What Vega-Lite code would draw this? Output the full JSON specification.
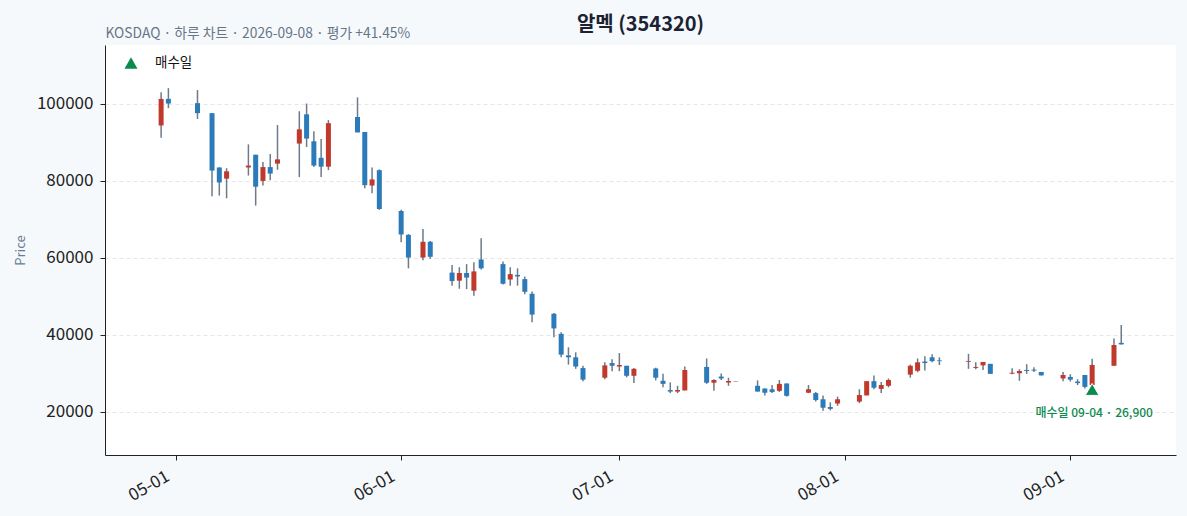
{
  "$schema": "https://vega.github.io/schema/vega-lite/v6.json",
  "width": 1071,
  "height": 410,
  "autosize": "none",
  "padding": {"left": 105, "top": 45, "right": 11, "bottom": 61},
  "background": "#f5f9fc",
  "config": {
    "view": {"stroke": null, "fill": "white"},
    "font": "Noto Sans CJK KR"
  },
  "title": {
    "text": "알멕 (354320)",
    "fontSize": 20,
    "fontWeight": "bold",
    "color": "#1b2333",
    "anchor": "middle",
    "offset": -9
  },
  "datasets": {
    "candles": [
      {"date": "2026-04-29T00:00:00", "open": 94400, "high": 103000, "low": 91200, "close": 101300},
      {"date": "2026-04-30T00:00:00", "open": 101300, "high": 104100, "low": 98900, "close": 100100},
      {"date": "2026-05-04T00:00:00", "open": 100200, "high": 103600, "low": 96100, "close": 97600},
      {"date": "2026-05-06T00:00:00", "open": 97600, "high": 97600, "low": 76000, "close": 82700},
      {"date": "2026-05-07T00:00:00", "open": 83500, "high": 83500, "low": 76200, "close": 79600},
      {"date": "2026-05-08T00:00:00", "open": 80600, "high": 83300, "low": 75500, "close": 82500},
      {"date": "2026-05-11T00:00:00", "open": 83500, "high": 89500, "low": 81400, "close": 84000},
      {"date": "2026-05-12T00:00:00", "open": 86800, "high": 86800, "low": 73600, "close": 78500},
      {"date": "2026-05-13T00:00:00", "open": 80000, "high": 84900, "low": 78800, "close": 83600},
      {"date": "2026-05-14T00:00:00", "open": 83600, "high": 87000, "low": 80200, "close": 81900},
      {"date": "2026-05-15T00:00:00", "open": 84500, "high": 94500, "low": 82900, "close": 85600},
      {"date": "2026-05-18T00:00:00", "open": 89700, "high": 98100, "low": 81000, "close": 93400},
      {"date": "2026-05-19T00:00:00", "open": 97300, "high": 100100, "low": 88800, "close": 91000},
      {"date": "2026-05-20T00:00:00", "open": 90300, "high": 92900, "low": 83600, "close": 84000},
      {"date": "2026-05-21T00:00:00", "open": 86000, "high": 90900, "low": 81000, "close": 83700},
      {"date": "2026-05-22T00:00:00", "open": 83700, "high": 95800, "low": 82800, "close": 95000},
      {"date": "2026-05-26T00:00:00", "open": 96600, "high": 101700, "low": 92600, "close": 92600},
      {"date": "2026-05-27T00:00:00", "open": 92700, "high": 92700, "low": 78100, "close": 78900},
      {"date": "2026-05-28T00:00:00", "open": 78800, "high": 83500, "low": 76800, "close": 80400},
      {"date": "2026-05-29T00:00:00", "open": 82800, "high": 83000, "low": 72500, "close": 72700},
      {"date": "2026-06-01T00:00:00", "open": 72200, "high": 72500, "low": 64100, "close": 66100},
      {"date": "2026-06-02T00:00:00", "open": 66000, "high": 66200, "low": 57300, "close": 60100},
      {"date": "2026-06-04T00:00:00", "open": 60100, "high": 67500, "low": 59400, "close": 64200},
      {"date": "2026-06-05T00:00:00", "open": 64200, "high": 64400, "low": 59800, "close": 60300},
      {"date": "2026-06-08T00:00:00", "open": 56200, "high": 58200, "low": 52800, "close": 54000},
      {"date": "2026-06-09T00:00:00", "open": 54100, "high": 57600, "low": 52000, "close": 56100},
      {"date": "2026-06-10T00:00:00", "open": 56100, "high": 58400, "low": 51900, "close": 54900},
      {"date": "2026-06-11T00:00:00", "open": 51500, "high": 58900, "low": 50200, "close": 56500},
      {"date": "2026-06-12T00:00:00", "open": 59600, "high": 65100, "low": 57000, "close": 57300},
      {"date": "2026-06-15T00:00:00", "open": 58400, "high": 59100, "low": 53100, "close": 53300},
      {"date": "2026-06-16T00:00:00", "open": 54400, "high": 57600, "low": 52800, "close": 55800},
      {"date": "2026-06-17T00:00:00", "open": 55600, "high": 57300, "low": 52800, "close": 55200},
      {"date": "2026-06-18T00:00:00", "open": 54500, "high": 55200, "low": 50600, "close": 51200},
      {"date": "2026-06-19T00:00:00", "open": 50700, "high": 51300, "low": 43300, "close": 45300},
      {"date": "2026-06-22T00:00:00", "open": 45500, "high": 45700, "low": 39400, "close": 41700},
      {"date": "2026-06-23T00:00:00", "open": 40300, "high": 40700, "low": 34200, "close": 34900},
      {"date": "2026-06-24T00:00:00", "open": 34700, "high": 36800, "low": 32300, "close": 34200},
      {"date": "2026-06-25T00:00:00", "open": 34200, "high": 35500, "low": 31200, "close": 31800},
      {"date": "2026-06-26T00:00:00", "open": 31400, "high": 32000, "low": 28000, "close": 28400},
      {"date": "2026-06-29T00:00:00", "open": 28900, "high": 32900, "low": 28500, "close": 32100},
      {"date": "2026-06-30T00:00:00", "open": 32700, "high": 33700, "low": 30600, "close": 32000},
      {"date": "2026-07-01T00:00:00", "open": 31800, "high": 35300, "low": 30600, "close": 32200},
      {"date": "2026-07-02T00:00:00", "open": 32000, "high": 32000, "low": 29000, "close": 29400},
      {"date": "2026-07-03T00:00:00", "open": 29400, "high": 31400, "low": 27500, "close": 31200},
      {"date": "2026-07-06T00:00:00", "open": 31300, "high": 31500, "low": 28200, "close": 28900},
      {"date": "2026-07-07T00:00:00", "open": 28100, "high": 29900, "low": 26400, "close": 27300},
      {"date": "2026-07-08T00:00:00", "open": 25700, "high": 27700, "low": 24900, "close": 25300},
      {"date": "2026-07-09T00:00:00", "open": 25300, "high": 26800, "low": 24900, "close": 25700},
      {"date": "2026-07-10T00:00:00", "open": 25600, "high": 31800, "low": 25600, "close": 30900},
      {"date": "2026-07-13T00:00:00", "open": 31700, "high": 33900, "low": 27300, "close": 27600},
      {"date": "2026-07-14T00:00:00", "open": 27600, "high": 28500, "low": 25500, "close": 28300},
      {"date": "2026-07-15T00:00:00", "open": 29200, "high": 30000, "low": 28300, "close": 28700},
      {"date": "2026-07-16T00:00:00", "open": 27650, "high": 28900, "low": 26800, "close": 28050},
      {"date": "2026-07-17T00:00:00", "open": 27950, "high": 28050, "low": 27950, "close": 28050},
      {"date": "2026-07-20T00:00:00", "open": 26800, "high": 28200, "low": 25300, "close": 25300},
      {"date": "2026-07-21T00:00:00", "open": 26100, "high": 26100, "low": 24300, "close": 25000},
      {"date": "2026-07-22T00:00:00", "open": 25900, "high": 27000, "low": 24900, "close": 25200},
      {"date": "2026-07-23T00:00:00", "open": 25500, "high": 28300, "low": 25200, "close": 27300},
      {"date": "2026-07-24T00:00:00", "open": 27400, "high": 27400, "low": 24000, "close": 24200},
      {"date": "2026-07-27T00:00:00", "open": 25000, "high": 27000, "low": 24900, "close": 25900},
      {"date": "2026-07-28T00:00:00", "open": 24900, "high": 25200, "low": 22700, "close": 23100},
      {"date": "2026-07-29T00:00:00", "open": 23300, "high": 24300, "low": 20300, "close": 21100},
      {"date": "2026-07-30T00:00:00", "open": 21300, "high": 22500, "low": 20400, "close": 20800},
      {"date": "2026-07-31T00:00:00", "open": 22200, "high": 24000, "low": 21600, "close": 23300},
      {"date": "2026-08-03T00:00:00", "open": 22700, "high": 25900, "low": 22300, "close": 24400},
      {"date": "2026-08-04T00:00:00", "open": 24300, "high": 28000, "low": 24300, "close": 28000},
      {"date": "2026-08-05T00:00:00", "open": 28000, "high": 29500, "low": 25900, "close": 26300},
      {"date": "2026-08-06T00:00:00", "open": 26000, "high": 27800, "low": 24900, "close": 27000},
      {"date": "2026-08-07T00:00:00", "open": 26800, "high": 28700, "low": 26400, "close": 28300},
      {"date": "2026-08-10T00:00:00", "open": 29700, "high": 32300, "low": 28900, "close": 32000},
      {"date": "2026-08-11T00:00:00", "open": 30700, "high": 33900, "low": 30300, "close": 32900},
      {"date": "2026-08-12T00:00:00", "open": 33100, "high": 34500, "low": 30800, "close": 32700},
      {"date": "2026-08-13T00:00:00", "open": 34200, "high": 35000, "low": 32900, "close": 33200},
      {"date": "2026-08-14T00:00:00", "open": 33400, "high": 34200, "low": 32200, "close": 33200},
      {"date": "2026-08-18T00:00:00", "open": 33050, "high": 35100, "low": 31200, "close": 33250},
      {"date": "2026-08-19T00:00:00", "open": 31450, "high": 32900, "low": 31100, "close": 31700},
      {"date": "2026-08-20T00:00:00", "open": 32100, "high": 33000, "low": 30900, "close": 33000},
      {"date": "2026-08-21T00:00:00", "open": 32500, "high": 32500, "low": 29900, "close": 29900},
      {"date": "2026-08-24T00:00:00", "open": 29950, "high": 31350, "low": 29800, "close": 30200},
      {"date": "2026-08-25T00:00:00", "open": 30050, "high": 31100, "low": 28100, "close": 30650},
      {"date": "2026-08-26T00:00:00", "open": 30900, "high": 32400, "low": 29900, "close": 30650},
      {"date": "2026-08-27T00:00:00", "open": 31000, "high": 31600, "low": 30400, "close": 30750},
      {"date": "2026-08-28T00:00:00", "open": 30400, "high": 30400, "low": 29500, "close": 29500},
      {"date": "2026-08-31T00:00:00", "open": 28700, "high": 30400, "low": 28000, "close": 29600},
      {"date": "2026-09-01T00:00:00", "open": 29100, "high": 29800, "low": 27900, "close": 28400},
      {"date": "2026-09-02T00:00:00", "open": 27900, "high": 28500, "low": 27000, "close": 27500},
      {"date": "2026-09-03T00:00:00", "open": 29600, "high": 29600, "low": 26100, "close": 26500},
      {"date": "2026-09-04T00:00:00", "open": 27000, "high": 33800, "low": 26900, "close": 32200},
      {"date": "2026-09-07T00:00:00", "open": 32000, "high": 39100, "low": 32000, "close": 37400},
      {"date": "2026-09-08T00:00:00", "open": 37950, "high": 42600, "low": 37550, "close": 37550}
    ],
    "buys": [
      {"date": "2026-09-04T00:00:00", "price": 26900, "kind": "매수일", "label": "매수일 09-04 · 26,900"}
    ]
  },
  "layer": [
    {
      "data": {"name": "candles"},
      "mark": {"type": "rule", "color": "#6c7a89", "strokeWidth": 1.5},
      "encoding": {
        "x": {
          "field": "date",
          "type": "temporal",
          "scale": {
            "domain": [
              {"year": 2026, "month": 4, "date": 21, "hours": 23, "minutes": 20},
              {"year": 2026, "month": 9, "date": 14, "hours": 20, "minutes": 10}
            ]
          },
          "axis": {
            "orient": "bottom",
            "title": null,
            "format": "%m-%d",
            "tickCount": {"interval": "month", "step": 1},
            "labelAngle": -30,
            "labelAlign": "right",
            "labelBaseline": "top",
            "labelFontSize": 17,
            "labelColor": "#222222",
            "labelPadding": 8,
            "labelOffset": -12,
            "tickColor": "#222222",
            "tickSize": 5,
            "domainColor": "#222222",
            "grid": false
          }
        },
        "y": {
          "field": "low",
          "type": "quantitative",
          "scale": {"domain": [8830, 115300], "nice": false, "zero": false},
          "axis": {
            "title": "Price",
            "titleColor": "#6b7a90",
            "titleFontSize": 13,
            "titleFontWeight": "normal",
            "titlePadding": 9,
            "values": [20000, 40000, 60000, 80000, 100000],
            "format": "d",
            "labelFontSize": 17,
            "labelColor": "#222222",
            "labelPadding": 7,
            "tickColor": "#222222",
            "tickSize": 5,
            "domainColor": "#222222",
            "grid": true,
            "gridColor": "#e6e6e6",
            "gridDash": [4, 3]
          }
        },
        "y2": {"field": "high"}
      }
    },
    {
      "data": {"name": "candles"},
      "mark": {"type": "bar", "width": 5},
      "encoding": {
        "x": {"field": "date", "type": "temporal", "axis": null},
        "y": {"field": "open", "type": "quantitative"},
        "y2": {"field": "close"},
        "color": {
          "condition": {"test": "datum.close >= datum.open", "value": "#c0392b"},
          "value": "#2b7bba"
        }
      }
    },
    {
      "data": {"name": "buys"},
      "mark": {"type": "point", "filled": true, "size": 190, "opacity": 1, "stroke": "white", "strokeWidth": 1, "yOffset": 4},
      "encoding": {
        "x": {
          "field": "date",
          "type": "temporal",
          "axis": {
            "orient": "top",
            "title": "KOSDAQ · 하루 차트 · 2026-09-08 · 평가 +41.45%",
            "titleAnchor": "start",
            "titleAlign": "left",
            "titleFontSize": 13.8,
            "titleFontWeight": "normal",
            "titleColor": "#687587",
            "titlePadding": 5,
            "labels": false,
            "ticks": false,
            "domain": false,
            "grid": false
          }
        },
        "y": {"field": "price", "type": "quantitative"},
        "color": {
          "field": "kind",
          "type": "nominal",
          "scale": {"range": ["#0b8a4e"]},
          "legend": {
            "title": null,
            "orient": "none",
            "legendX": 19,
            "legendY": 11,
            "padding": 0,
            "symbolSize": 170,
            "symbolStrokeWidth": 0,
            "labelFontSize": 13.5,
            "labelColor": "#111111",
            "labelOffset": 17
          }
        },
        "shape": {
          "field": "kind",
          "type": "nominal",
          "scale": {"range": ["triangle-up"]}
        }
      }
    },
    {
      "data": {"name": "buys"},
      "mark": {"type": "text", "color": "#0b8a4e", "fontSize": 12, "fontWeight": 500, "dy": 28, "dx": 2},
      "encoding": {
        "x": {"field": "date", "type": "temporal", "axis": null},
        "y": {"field": "price", "type": "quantitative"},
        "text": {"field": "label"}
      }
    }
  ],
  "resolve": {"axis": {"x": "independent"}}
}
